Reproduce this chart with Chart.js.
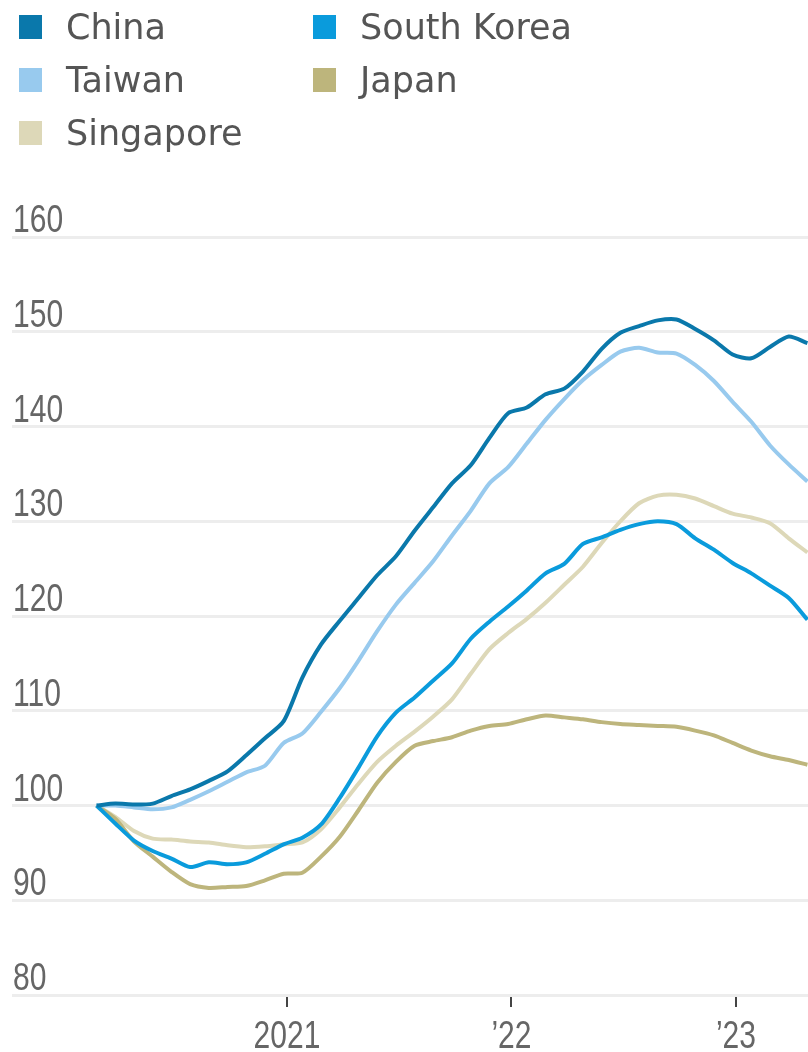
<!DOCTYPE html>
<html>
<head>
<meta charset="utf-8">
<script src="https://cdn.jsdelivr.net/npm/chart.js@4.4.1/dist/chart.umd.min.js"></script>
<style>
  html, body { margin: 0; padding: 0; background: #fff; }
  body { width: 808px; height: 1052px; position: relative; overflow: hidden; }
  #legend { position: absolute; left: 0; top: 0; width: 808px; height: 170px; z-index: 2; }
  .item { position: absolute; height: 40px; display: flex; align-items: center;
          font-family: 'DejaVu Sans', sans-serif; font-size: 35px; color: #555; }
  .item .box { width: 23px; height: 24px; margin-right: 24px; }
  #cntr { position: absolute; left: 0; top: 0; width: 808px; height: 1052px; }
</style>
</head>
<body>
<div id="legend"></div>
<div id="cntr"><canvas id="myChart"></canvas></div>
<script>
// fechas mensuales (indice base 100 = feb 2020)
const dates = [
  '2020-02-26','2020-03-26','2020-04-26','2020-05-26','2020-06-26','2020-07-26','2020-08-26','2020-09-26','2020-10-26','2020-11-26','2020-12-26',
  '2021-01-26','2021-02-26','2021-03-26','2021-04-26','2021-05-26','2021-06-26','2021-07-26','2021-08-26','2021-09-26','2021-10-26','2021-11-26','2021-12-26',
  '2022-01-26','2022-02-26','2022-03-26','2022-04-26','2022-05-26','2022-06-26','2022-07-26','2022-08-26','2022-09-26','2022-10-26','2022-11-26','2022-12-26',
  '2023-01-26','2023-02-26','2023-03-26','2023-04-26'
];

const china = [100, 100.2, 100.1, 100.2, 101.0, 101.7, 102.6, 103.6, 105.3, 107.1, 108.9,
  113.5, 117.0, 119.5, 121.9, 124.3, 126.3, 129.0, 131.5, 134.0, 135.9, 138.8, 141.4,
  142.0, 143.4, 144.0, 145.8, 148.2, 149.9, 150.6, 151.2, 151.3, 150.3, 149.1, 147.6,
  147.2, 148.4, 149.5, 148.8];

const southKorea = [100, 98.1, 96.3, 95.2, 94.4, 93.5, 94.0, 93.8, 94.0, 94.9, 95.9,
  96.6, 98.0, 100.8, 104.0, 107.3, 109.8, 111.4, 113.2, 115.0, 117.6, 119.4, 121.0,
  122.7, 124.5, 125.5, 127.6, 128.3, 129.1, 129.7, 130.0, 129.7, 128.2, 127.0, 125.6,
  124.5, 123.2, 121.9, 119.6];

const taiwan = [100, 100.0, 99.8, 99.6, 99.8, 100.6, 101.5, 102.5, 103.5, 104.2, 106.6,
  107.6, 109.9, 112.4, 115.3, 118.4, 121.2, 123.5, 125.8, 128.5, 131.1, 134.0, 135.7,
  138.2, 140.7, 142.9, 144.9, 146.5, 147.9, 148.3, 147.8, 147.7, 146.5, 144.8, 142.6,
  140.5, 138.0, 136.0, 134.2];

const japan = [100, 98.6, 96.2, 94.6, 93.0, 91.7, 91.3, 91.4, 91.5, 92.1, 92.8,
  92.9, 94.6, 96.7, 99.5, 102.4, 104.6, 106.3, 106.8, 107.2, 107.9, 108.4, 108.6,
  109.1, 109.5, 109.3, 109.1, 108.8, 108.6, 108.5, 108.4, 108.3, 107.9, 107.4, 106.6,
  105.8, 105.2, 104.8, 104.3];

const singapore = [100, 98.8, 97.3, 96.5, 96.4, 96.2, 96.1, 95.8, 95.6, 95.7, 95.9,
  96.1, 97.5, 99.8, 102.3, 104.6, 106.3, 107.8, 109.4, 111.2, 113.9, 116.5, 118.2,
  119.7, 121.4, 123.3, 125.2, 127.7, 130.0, 131.9, 132.7, 132.8, 132.4, 131.6, 130.8,
  130.4, 129.8, 128.2, 126.7];

const seriesNames = ['China', 'South Korea', 'Taiwan', 'Japan', 'Singapore'];
const seriesColors = ['#0a78ab', '#0a9bdc', '#98caee', '#bdb57c', '#ddd8b8'];
const xTickValues = [2021, 2022, 2023];
const xTickLabels = ['2021', '\u201922', '\u201923'];
const yTicks = [80, 90, 100, 110, 120, 130, 140, 150, 160];

function decimalYear(s) {
  const [y, m, d] = s.split('-').map(Number);
  return y + (m - 1) / 12 + (d - 1) / 365;
}

const xs = dates.map(decimalYear);
const allSeries = [china, southKorea, taiwan, japan, singapore];

const datasets = allSeries.map((serie, i) => ({
  label: seriesNames[i],
  data: serie.map((v, j) => ({ x: xs[j], y: v })),
  borderColor: seriesColors[i],
  backgroundColor: seriesColors[i],
  borderWidth: 4,
  pointRadius: 0,
  tension: 0.25,
  fill: false
}));

// leyenda en dos columnas
const legendPos = [[19, 7], [313, 7], [19, 60], [313, 60], [19, 113]];
const legend = document.getElementById('legend');
seriesNames.forEach((nombre, k) => {
  const el = document.createElement('div');
  el.className = 'item';
  el.style.left = legendPos[k][0] + 'px';
  el.style.top = legendPos[k][1] + 'px';
  el.innerHTML = `<span class="box" style="background:${seriesColors[k]}"></span>${nombre}`;
  legend.appendChild(el);
});

// etiquetas de ejes con letra estrecha (escala horizontal)
const etiquetasEstrechas = {
  id: 'etiquetasEstrechas',
  afterDraw(chart) {
    const { ctx, chartArea, scales: { x, y } } = chart;
    ctx.save();
    ctx.fillStyle = '#666';
    ctx.font = "38px 'Liberation Sans', Arial, sans-serif";
    ctx.textBaseline = 'alphabetic';
    yTicks.forEach(v => {
      const py = y.getPixelForValue(v);
      ctx.save();
      ctx.translate(chartArea.left + 1, py - 5);
      ctx.scale(0.79, 1);
      ctx.textAlign = 'left';
      ctx.fillText(String(v), 0, 0);
      ctx.restore();
    });
    xTickValues.forEach((v, i) => {
      const px = x.getPixelForValue(v);
      ctx.save();
      ctx.translate(px, 1048);
      ctx.scale(0.79, 1);
      ctx.textAlign = 'center';
      ctx.fillText(xTickLabels[i], 0, 0);
      ctx.restore();
    });
    ctx.restore();
  }
};

const ctx = document.getElementById('myChart');
new Chart(ctx, {
  type: 'line',
  data: { datasets: datasets },
  options: {
    responsive: true,
    maintainAspectRatio: false,
    animation: false,
    layout: { padding: { top: 237, left: 12, right: 0, bottom: 45 } },
    plugins: { legend: { display: false }, tooltip: { enabled: false } },
    scales: {
      x: {
        type: 'linear',
        min: 2019.775,
        max: 2023.321,
        afterBuildTicks: (axis) => { axis.ticks = xTickValues.map(v => ({ value: v })); },
        border: { display: false },
        grid: { drawOnChartArea: false, drawTicks: true, tickLength: 12, color: '#444', lineWidth: 2 },
        ticks: { display: false }
      },
      y: {
        min: 80,
        max: 160,
        afterBuildTicks: (axis) => { axis.ticks = yTicks.map(v => ({ value: v })); },
        border: { display: false },
        grid: { color: '#ededed', lineWidth: 3, drawTicks: false },
        ticks: { display: false }
      }
    }
  },
  plugins: [etiquetasEstrechas]
});
</script>
</body>
</html>
